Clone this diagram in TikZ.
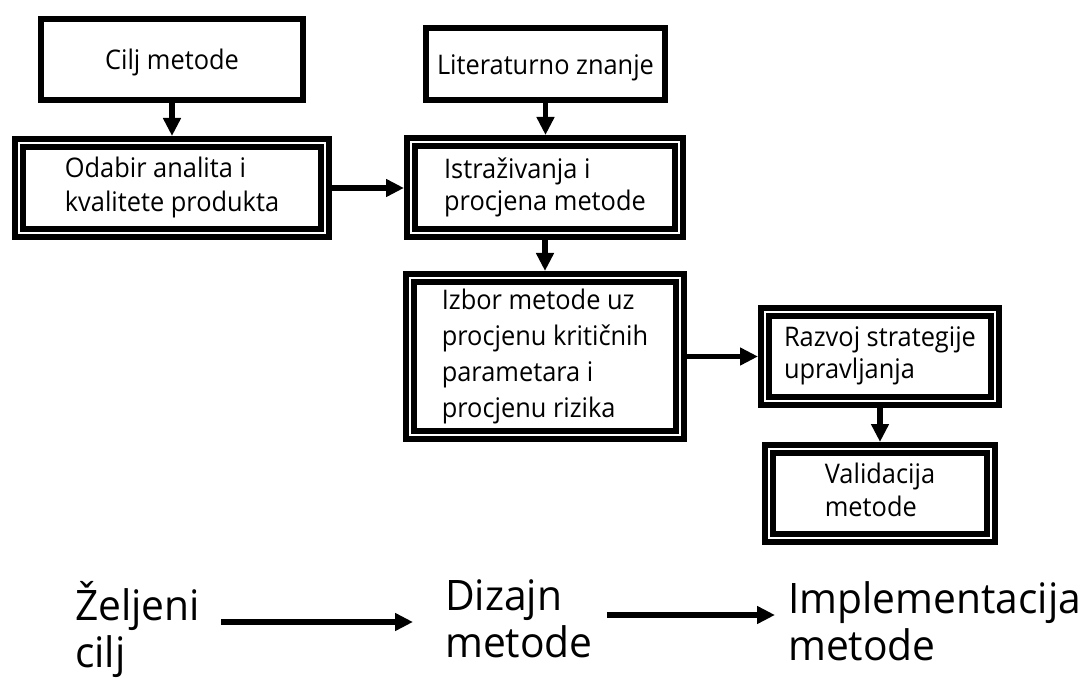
\documentclass[tikz,border=0pt]{standalone}
\usepackage{fontspec}
\setmainfont{Open Sans}[FakeStretch=0.94]
\newfontfamily\bigfont{Open Sans}[FakeStretch=0.97]
\usetikzlibrary{arrows.meta}
\newcommand\fsz[1]{\fontsize{27}{#1}\selectfont}
\begin{document}
\begin{tikzpicture}[x=1pt,y=-1pt,
  boxbase/.style={rectangle, draw=black, inner sep=0pt, text=black,
    execute at begin node={\rule{0pt}{28pt}},
    execute at end node={\rule[-7pt]{0pt}{7pt}}},
  single/.style={boxbase, line width=6pt, outer sep=3pt, align=center},
  dbl/.style={boxbase, line width=6pt, double=white, double distance=2pt, outer sep=7pt, align=left},
  arr/.style={line width=5.5pt, draw=black, -{Triangle[length=18pt,width=17pt]}},
  lbl/.style={anchor=north west, inner sep=0pt, align=left, text=black,
    font=\bigfont\fontsize{42}{47}\selectfont,
    execute at begin node={\rule{0pt}{42pt}}}
]
\useasboundingbox (0,0) rectangle (1088,687);
\fill[white] (0,0) rectangle (1088,687);

% top row boxes
\node[single, minimum width=262pt, minimum height=81pt, font={\fsz{34}}] (b1) at (172,59.5) {Cilj metode};
\node[single, minimum width=239pt, minimum height=72pt, font={\fsz{34}}] (b3) at (545.5,64) {Literaturno znanje};

\node[dbl, minimum width=306pt, minimum height=90pt, font={\fsz{34}}] (b2) at (172,188) {Odabir analita i\\kvalitete produkta};
\node[dbl, minimum width=268pt, minimum height=91pt, font={\fsz{32}}] (b4) at (545,187.5) {Istraživanja i\\procjena metode};
\node[dbl, minimum width=270pt, minimum height=157pt, font={\fsz{36}}] (b5) at (545,356.5) {Izbor metode uz\\procjenu kritičnih\\parametara i\\procjenu rizika};
\node[dbl, minimum width=230pt, minimum height=89pt, font={\fsz{32}}] (b6) at (880,356.5) {Razvoj strategije\\upravljanja};
\node[dbl, minimum width=222pt, minimum height=89pt, font={\fsz{33}}] (b7) at (880,493.5) {Validacija\\metode};

% connectors
\draw[arr] (b1.south) -- (b2.north);
\draw[arr] (b3.south) -- (b3.south |- b4.north);
\draw[arr] (b2.east) -- (b2.east -| b4.west);
\draw[arr] (b4.south) -- (b5.north);
\draw[arr] (b5.east) -- (b5.east -| b6.west);
\draw[arr] (b6.south) -- (b7.north);

% bottom labels
\node[lbl] (zel) at (75,581) {Željeni\\cilj};
\node[lbl] (diz) at (445,579) {Dizajn\\metode};
\node[lbl] (imp) at (788,581) {Implementacija\\metode};

\draw[arr, shorten <=21pt, shorten >=32pt] (zel.east |- 0,622) -- (diz.west |- 0,622);
\draw[arr, shorten <=14pt, shorten >=13pt] (diz.east |- 0,615) -- (imp.west |- 0,615);
\end{tikzpicture}
\end{document}
